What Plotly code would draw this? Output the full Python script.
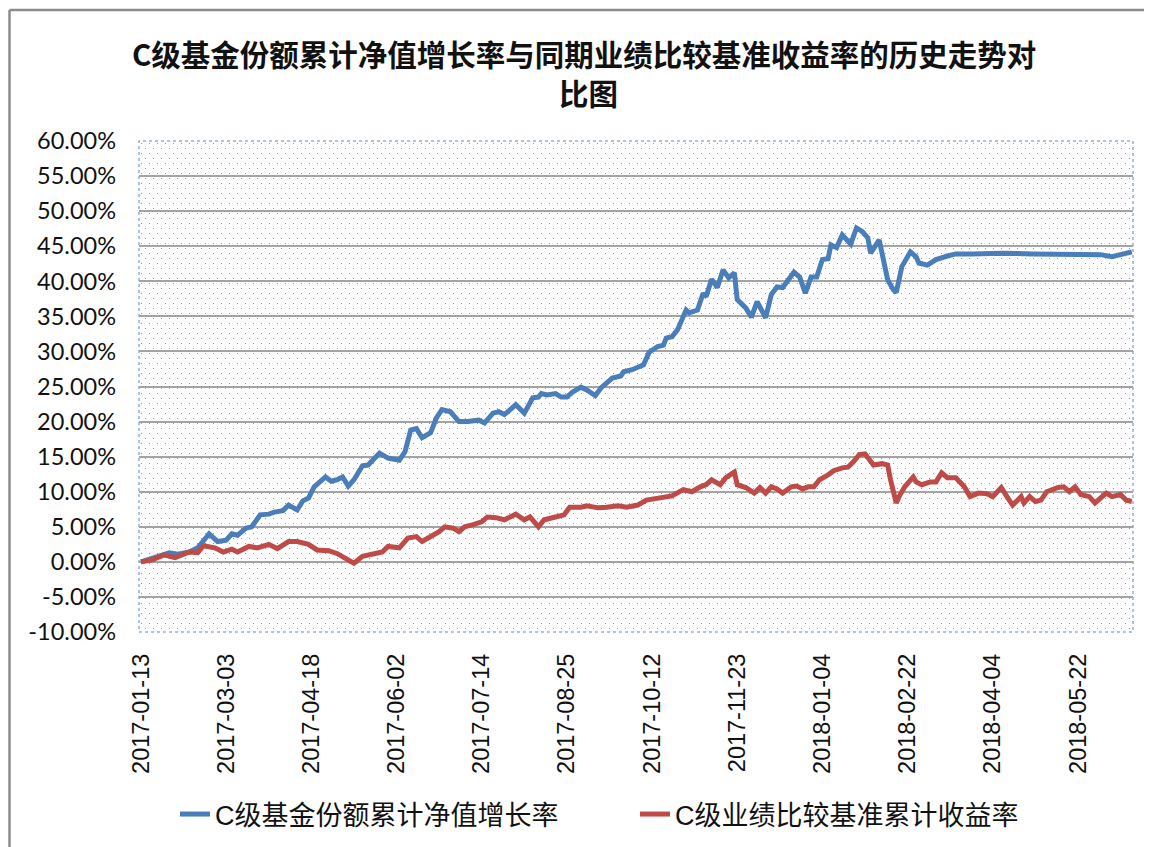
import base64
import plotly.graph_objects as go

# ---------------- data (trading-day index, cumulative %) ----------------
x_labels = ["2017-01-13", "2017-03-03", "2017-04-18", "2017-06-02", "2017-07-14",
            "2017-08-25", "2017-10-12", "2017-11-23", "2018-01-04", "2018-02-22",
            "2018-04-04", "2018-05-22"]
x_label_idx = [0, 30, 60, 90, 120, 150, 180, 210, 240, 270, 300, 330]

y_tick_vals = [60, 55, 50, 45, 40, 35, 30, 25, 20, 15, 10, 5, 0, -5, -10]
y_tick_text = ["60.00%", "55.00%", "50.00%", "45.00%", "40.00%", "35.00%", "30.00%",
               "25.00%", "20.00%", "15.00%", "10.00%", "5.00%", "0.00%", "-5.00%", "-10.00%"]

fund_name = "C级基金份额累计净值增长率"
fund_idx = [0, 5, 10, 13, 17, 20, 23, 24, 27, 30, 32, 34, 37, 39, 42, 45, 47, 50, 52, 55,
            57, 59, 61, 65, 67, 69, 71, 73, 75, 78, 80, 84, 87, 91, 93, 95, 97, 99, 102, 104,
            106, 109, 112, 115, 119, 121, 124, 126, 128, 131, 132, 135, 138, 140, 141, 143,
            146, 148, 150, 152, 155, 157, 160, 162, 164, 166, 169, 170, 173, 175, 177, 179,
            182, 184, 185, 187, 189, 192, 193, 196, 198, 199, 201, 203, 205, 207, 209, 210,
            213, 215, 217, 220, 222, 224, 226, 230, 232, 234, 236, 238, 240, 242, 243, 245,
            247, 250, 252, 254, 256, 257, 260, 261, 263, 265, 266, 268, 271, 273, 274, 277,
            280, 284, 287, 293, 303, 314, 326, 332, 338, 342, 346, 349]
fund_val = [0.0, 0.7, 1.3, 1.1, 1.4, 2.0, 3.6, 4.0, 2.9, 3.1, 4.0, 3.8, 4.8, 5.0, 6.7, 6.8,
            7.1, 7.3, 8.1, 7.4, 8.7, 9.1, 10.7, 12.1, 11.5, 11.7, 12.1, 10.8, 11.7, 13.7, 13.8,
            15.5, 14.8, 14.5, 15.7, 18.8, 19.0, 17.7, 18.4, 20.5, 21.7, 21.4, 20.0, 20.0, 20.2,
            19.8, 21.2, 21.4, 21.0, 22.1, 22.4, 21.2, 23.4, 23.5, 24.0, 23.8, 24.0, 23.5, 23.5,
            24.2, 24.9, 24.5, 23.7, 24.8, 25.5, 26.2, 26.5, 27.1, 27.4, 27.8, 28.1, 29.9, 30.7,
            30.9, 31.9, 32.1, 33.1, 35.9, 35.5, 35.9, 38.3, 37.8, 40.3, 39.1, 41.6, 40.5, 41.2,
            37.4, 36.2, 34.9, 37.1, 34.8, 38.1, 39.2, 39.1, 41.3, 40.6, 38.3, 40.6, 40.6, 43.1,
            43.2, 45.2, 44.8, 46.6, 45.3, 47.6, 47.1, 46.2, 44.0, 45.9, 44.0, 40.2, 38.8, 38.4,
            42.1, 44.2, 43.5, 42.6, 42.3, 43.1, 43.6, 43.9, 43.9, 44.0, 43.9, 43.9, 43.8, 43.8,
            43.5, 43.8, 44.2]

bench_name = "C级业绩比较基准累计收益率"
bench_idx = [0, 4, 8, 12, 17, 20, 22, 26, 29, 32, 34, 38, 41, 45, 48, 52, 55, 59, 62, 66,
             69, 73, 75, 78, 81, 85, 87, 91, 94, 97, 99, 102, 105, 107, 110, 112, 114, 117,
             120, 122, 125, 128, 132, 135, 137, 140, 142, 146, 149, 151, 155, 157, 161, 164,
             168, 171, 175, 178, 182, 185, 187, 191, 194, 197, 199, 201, 204, 206, 209, 210,
             213, 216, 218, 220, 222, 224, 226, 229, 231, 233, 235, 237, 239, 242, 244, 247,
             249, 251, 253, 255, 257, 258, 261, 263, 264, 266, 267, 269, 272, 273, 275, 278,
             280, 282, 284, 287, 290, 292, 295, 298, 300, 303, 305, 307, 310, 311, 313, 315,
             317, 319, 323, 325, 327, 329, 331, 334, 336, 338, 340, 342, 345, 347, 349]
bench_val = [0.0, 0.3, 1.0, 0.6, 1.4, 1.3, 2.3, 2.0, 1.4, 1.8, 1.4, 2.2, 2.0, 2.5, 1.9, 2.9,
             2.9, 2.5, 1.7, 1.6, 1.2, 0.3, -0.2, 0.8, 1.0, 1.4, 2.2, 2.0, 3.4, 3.6, 2.9, 3.6,
             4.3, 5.0, 4.8, 4.3, 5.0, 5.3, 5.7, 6.4, 6.3, 6.0, 6.8, 6.0, 6.4, 5.0, 6.0, 6.4,
             6.7, 7.8, 7.8, 8.0, 7.7, 7.8, 8.0, 7.8, 8.1, 8.8, 9.1, 9.3, 9.4, 10.3, 10.0, 10.7,
             11.0, 11.7, 11.0, 12.0, 12.8, 11.0, 10.6, 9.8, 10.6, 9.8, 10.7, 10.4, 9.8, 10.7,
             10.8, 10.4, 10.7, 10.7, 11.7, 12.4, 13.0, 13.4, 13.5, 14.3, 15.3, 15.4, 14.5, 13.8,
             14.0, 13.8, 11.7, 8.4, 9.3, 10.7, 12.1, 11.4, 11.0, 11.4, 11.4, 12.7, 12.0, 12.0,
             10.7, 9.3, 9.8, 9.7, 9.3, 10.6, 9.3, 8.1, 9.3, 8.4, 9.3, 8.6, 8.8, 10.0, 10.6,
             10.7, 10.0, 10.7, 9.6, 9.3, 8.4, 9.1, 9.8, 9.3, 9.6, 8.8, 8.6]

title_line1 = "C级基金份额累计净值增长率与同期业绩比较基准收益率的历史走势对"
title_line2 = "比图"

# ---------------- styling ----------------
W, H = 1152, 847
OFF = 8  # page body margin offset of the rendered figure
ML, MR, MT, MB = 131, 27, 133, 223
PW, PH = W - ML - MR, H - MT - MB

BLUE = "#4A7EBB"
RED = "#BE4B48"
GRID = "#A3A3A3"
LATIN_CJK = "Liberation Sans, Noto Sans CJK SC, sans-serif"


def px2x(s):
    return (s - OFF - ML) / PW


def px2y(s):
    return (H - MB - (s - OFF)) / PH


# dotted pattern fill of the plot area (background image)
svg = (f'<svg xmlns="http://www.w3.org/2000/svg" width="{PW}" height="{PH}" '
       f'viewBox="0 0 {PW} {PH}">'
       '<defs><pattern id="p" width="8" height="10" patternUnits="userSpaceOnUse">'
       '<rect x="2" y="2" width="1" height="1" fill="#6F98D4"/>'
       '<rect x="6" y="7" width="1" height="1" fill="#6F98D4"/>'
       '</pattern></defs>'
       '<rect width="100%" height="100%" fill="url(#p)"/></svg>')
svg_uri = "data:image/svg+xml;base64," + base64.b64encode(svg.encode()).decode()

fig = go.Figure()
fig.add_trace(go.Scatter(x=fund_idx, y=fund_val, mode="lines", name=fund_name,
                         line=dict(color=BLUE, width=5)))
fig.add_trace(go.Scatter(x=bench_idx, y=bench_val, mode="lines", name=bench_name,
                         line=dict(color=RED, width=5)))

title_font = dict(family="Noto Sans CJK SC, sans-serif", size=29.5, color="#111111",
                  weight="bold")

fig.update_layout(
    width=W, height=H,
    margin=dict(l=ML, r=MR, t=MT, b=MB, pad=0, autoexpand=False),
    paper_bgcolor="white", plot_bgcolor="white",
    xaxis=dict(range=[-0.7, 349.4], tickvals=x_label_idx, ticktext=x_labels,
               tickangle=-90, showgrid=False, zeroline=False, showline=False, ticks="",
               ticklabelstandoff=16, automargin=False,
               tickfont=dict(family="Liberation Sans, sans-serif", size=23.5, color="#111111")),
    yaxis=dict(range=[-10, 60], tickvals=y_tick_vals, ticktext=y_tick_text,
               showgrid=True, gridcolor=GRID, gridwidth=1.5, zeroline=False,
               showline=False, ticks="", ticklabelstandoff=22, automargin=False,
               tickfont=dict(family="Lato, sans-serif", size=23.5, color="#111111")),
    legend=dict(orientation="h", x=px2x(175), xanchor="left", y=px2y(790), yanchor="top",
                font=dict(family=LATIN_CJK, size=27, color="#111111"),
                entrywidth=415, entrywidthmode="pixels", bgcolor="rgba(0,0,0,0)"),
    annotations=[
        dict(text=title_line1, xref="paper", yref="paper", x=px2x(584), y=px2y(53),
             xanchor="center", yanchor="middle", showarrow=False, font=title_font),
        dict(text=title_line2, xref="paper", yref="paper", x=px2x(588), y=px2y(92),
             xanchor="center", yanchor="middle", showarrow=False, font=title_font),
    ],
    images=[dict(source=svg_uri, xref="paper", yref="paper", x=0, y=1, sizex=1, sizey=1,
                 xanchor="left", yanchor="top", sizing="stretch", layer="below")],
    shapes=[
        dict(type="rect", xref="paper", yref="paper", x0=0, x1=1, y0=0, y1=1,
             line=dict(color="#8FB0DE", width=1.5, dash="dot"), layer="below"),
        dict(type="line", xref="paper", yref="paper", x0=px2x(OFF + 1.5), x1=px2x(OFF + 1.5),
             y0=px2y(H + 20), y1=px2y(10), line=dict(color="#8C8C8C", width=2.5)),
        dict(type="line", xref="paper", yref="paper", x0=px2x(OFF + 1.5), x1=px2x(W + 20),
             y0=px2y(10), y1=px2y(10), line=dict(color="#8C8C8C", width=2.5)),
    ],
)

fig.write_html("out.html")
